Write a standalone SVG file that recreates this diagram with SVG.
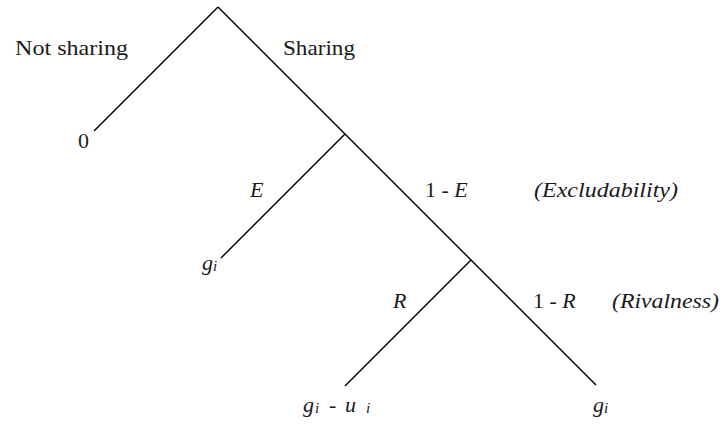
<svg xmlns="http://www.w3.org/2000/svg" width="726" height="425" viewBox="0 0 726 425">
<rect width="726" height="425" fill="#fff"/>
<g id="connectors" stroke="#000" stroke-width="1.4" fill="none">
<line x1="218" y1="7" x2="94" y2="131"/>
<line x1="218" y1="7" x2="596" y2="385"/>
<line x1="345" y1="134" x2="221" y2="258"/>
<line x1="471" y1="260" x2="345" y2="386"/>
</g>
<g id="root-labels">
<text x="15" y="55" font-family="Liberation Serif" font-size="22" fill="#1a1a1a" textLength="113" lengthAdjust="spacingAndGlyphs">Not sharing</text>
<text x="283" y="55" font-family="Liberation Serif" font-size="22" fill="#1a1a1a" textLength="72" lengthAdjust="spacingAndGlyphs">Sharing</text>
</g>
<g id="leaf-zero"><text x="78" y="148" font-family="Liberation Serif" font-size="22" fill="#1a1a1a">0</text></g>
<g id="excludability-labels">
<text x="250" y="197" font-family="Liberation Serif" font-size="22" font-style="italic" fill="#1a1a1a">E</text>
<text x="425" y="197" font-family="Liberation Serif" font-size="22" fill="#1a1a1a">1 - <tspan font-style="italic">E</tspan></text>
<text x="534" y="197" font-family="Liberation Serif" font-size="22" font-style="italic" fill="#1a1a1a" textLength="144" lengthAdjust="spacingAndGlyphs">(Excludability)</text>
</g>
<g id="leaf-gi-left"><text x="202" y="270" font-family="Liberation Serif" font-size="22" font-style="italic" fill="#1a1a1a">g<tspan font-size="15" dy="1">i</tspan></text></g>
<g id="rivalness-labels">
<text x="393" y="308" font-family="Liberation Serif" font-size="22" font-style="italic" fill="#1a1a1a">R</text>
<text x="533" y="308" font-family="Liberation Serif" font-size="22" fill="#1a1a1a">1 - <tspan font-style="italic">R</tspan></text>
<text x="612" y="308" font-family="Liberation Serif" font-size="22" font-style="italic" fill="#1a1a1a" textLength="107" lengthAdjust="spacingAndGlyphs">(Rivalness)</text>
</g>
<g id="leaf-gi-ui"><text y="412" font-family="Liberation Serif" font-size="22" fill="#1a1a1a"><tspan font-style="italic" x="303">g</tspan><tspan font-style="italic" font-size="15" x="315" dy="1">i</tspan><tspan x="329" dy="-1">-</tspan><tspan font-style="italic" x="345">u</tspan><tspan font-style="italic" font-size="15" x="366" dy="1">i</tspan></text></g>
<g id="leaf-gi-right"><text x="593" y="412" font-family="Liberation Serif" font-size="22" font-style="italic" fill="#1a1a1a">g<tspan font-size="15" dy="1">i</tspan></text></g>
</svg>
